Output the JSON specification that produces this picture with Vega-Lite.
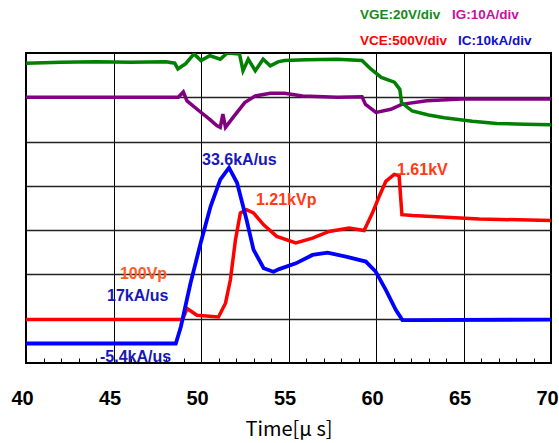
{
  "$schema": "https://vega.github.io/schema/vega-lite/v6.json",
  "width": 525,
  "height": 310,
  "autosize": {"type": "none"},
  "padding": {"left": 26, "top": 53, "right": 8, "bottom": 80},
  "background": "white",
  "config": {"view": {"stroke": "black", "strokeWidth": 2}},
  "datasets": {
    "traces": [
      {"s": "VGE", "t": 40, "v": 6.77}, {"s": "VGE", "t": 42, "v": 6.79}, {"s": "VGE", "t": 44, "v": 6.8}, {"s": "VGE", "t": 46, "v": 6.79}, {"s": "VGE", "t": 48, "v": 6.8}, {"s": "VGE", "t": 48.5, "v": 6.77}, {"s": "VGE", "t": 48.68, "v": 6.64}, {"s": "VGE", "t": 48.9, "v": 6.7}, {"s": "VGE", "t": 49.1, "v": 6.75}, {"s": "VGE", "t": 49.6, "v": 6.98}, {"s": "VGE", "t": 50.0, "v": 6.83}, {"s": "VGE", "t": 50.5, "v": 6.94}, {"s": "VGE", "t": 51.1, "v": 6.86}, {"s": "VGE", "t": 51.5, "v": 7.0}, {"s": "VGE", "t": 52.2, "v": 6.98}, {"s": "VGE", "t": 52.4, "v": 6.6}, {"s": "VGE", "t": 52.7, "v": 6.86}, {"s": "VGE", "t": 53.1, "v": 6.6}, {"s": "VGE", "t": 53.55, "v": 6.86}, {"s": "VGE", "t": 53.96, "v": 6.71}, {"s": "VGE", "t": 54.4, "v": 6.8}, {"s": "VGE", "t": 54.77, "v": 6.83}, {"s": "VGE", "t": 56, "v": 6.85}, {"s": "VGE", "t": 57.8, "v": 6.86}, {"s": "VGE", "t": 59.2, "v": 6.83}, {"s": "VGE", "t": 59.7, "v": 6.64}, {"s": "VGE", "t": 60.3, "v": 6.45}, {"s": "VGE", "t": 61.05, "v": 6.34}, {"s": "VGE", "t": 61.36, "v": 6.18}, {"s": "VGE", "t": 61.46, "v": 5.88}, {"s": "VGE", "t": 62.07, "v": 5.69}, {"s": "VGE", "t": 63.0, "v": 5.6}, {"s": "VGE", "t": 63.9, "v": 5.54}, {"s": "VGE", "t": 65.5, "v": 5.46}, {"s": "VGE", "t": 66.9, "v": 5.41}, {"s": "VGE", "t": 68.5, "v": 5.39}, {"s": "VGE", "t": 70, "v": 5.38},
      {"s": "IG", "t": 40, "v": 6.0}, {"s": "IG", "t": 48.7, "v": 6.0}, {"s": "IG", "t": 48.99, "v": 6.12}, {"s": "IG", "t": 49.2, "v": 5.92}, {"s": "IG", "t": 49.9, "v": 5.69}, {"s": "IG", "t": 50.5, "v": 5.5}, {"s": "IG", "t": 50.9, "v": 5.36}, {"s": "IG", "t": 51.1, "v": 5.32}, {"s": "IG", "t": 51.25, "v": 5.62}, {"s": "IG", "t": 51.4, "v": 5.32}, {"s": "IG", "t": 51.9, "v": 5.58}, {"s": "IG", "t": 52.5, "v": 5.88}, {"s": "IG", "t": 53.1, "v": 6.03}, {"s": "IG", "t": 53.96, "v": 6.09}, {"s": "IG", "t": 54.77, "v": 6.09}, {"s": "IG", "t": 55.8, "v": 6.03}, {"s": "IG", "t": 57.8, "v": 6.0}, {"s": "IG", "t": 59.2, "v": 6.01}, {"s": "IG", "t": 59.4, "v": 5.84}, {"s": "IG", "t": 60.0, "v": 5.66}, {"s": "IG", "t": 60.85, "v": 5.73}, {"s": "IG", "t": 61.46, "v": 5.84}, {"s": "IG", "t": 62.9, "v": 5.92}, {"s": "IG", "t": 64.9, "v": 5.96}, {"s": "IG", "t": 70, "v": 5.96},
      {"s": "VCE", "t": 40, "v": 0.98}, {"s": "VCE", "t": 48.95, "v": 0.98}, {"s": "VCE", "t": 49.2, "v": 1.23}, {"s": "VCE", "t": 49.77, "v": 1.08}, {"s": "VCE", "t": 51.0, "v": 1.04}, {"s": "VCE", "t": 51.4, "v": 1.35}, {"s": "VCE", "t": 51.68, "v": 1.88}, {"s": "VCE", "t": 51.97, "v": 2.78}, {"s": "VCE", "t": 52.25, "v": 3.39}, {"s": "VCE", "t": 52.6, "v": 3.46}, {"s": "VCE", "t": 53.0, "v": 3.39}, {"s": "VCE", "t": 53.58, "v": 3.12}, {"s": "VCE", "t": 54.33, "v": 2.86}, {"s": "VCE", "t": 55.42, "v": 2.71}, {"s": "VCE", "t": 56.37, "v": 2.82}, {"s": "VCE", "t": 57.32, "v": 2.97}, {"s": "VCE", "t": 58.47, "v": 3.05}, {"s": "VCE", "t": 59.32, "v": 2.99}, {"s": "VCE", "t": 59.8, "v": 3.39}, {"s": "VCE", "t": 60.18, "v": 3.76}, {"s": "VCE", "t": 60.56, "v": 4.1}, {"s": "VCE", "t": 61.04, "v": 4.26}, {"s": "VCE", "t": 61.32, "v": 4.23}, {"s": "VCE", "t": 61.48, "v": 3.35}, {"s": "VCE", "t": 62.09, "v": 3.33}, {"s": "VCE", "t": 65.9, "v": 3.25}, {"s": "VCE", "t": 70, "v": 3.22},
      {"s": "IC", "t": 40, "v": 0.44}, {"s": "IC", "t": 48.56, "v": 0.44}, {"s": "IC", "t": 48.85, "v": 0.82}, {"s": "IC", "t": 49.4, "v": 1.8}, {"s": "IC", "t": 49.98, "v": 2.71}, {"s": "IC", "t": 50.55, "v": 3.54}, {"s": "IC", "t": 51.1, "v": 4.14}, {"s": "IC", "t": 51.6, "v": 4.41}, {"s": "IC", "t": 52.06, "v": 4.07}, {"s": "IC", "t": 52.6, "v": 3.24}, {"s": "IC", "t": 53.0, "v": 2.56}, {"s": "IC", "t": 53.58, "v": 2.14}, {"s": "IC", "t": 54.14, "v": 2.06}, {"s": "IC", "t": 54.47, "v": 2.12}, {"s": "IC", "t": 55.42, "v": 2.25}, {"s": "IC", "t": 56.37, "v": 2.44}, {"s": "IC", "t": 57.23, "v": 2.49}, {"s": "IC", "t": 58.28, "v": 2.4}, {"s": "IC", "t": 59.42, "v": 2.29}, {"s": "IC", "t": 59.99, "v": 2.06}, {"s": "IC", "t": 60.56, "v": 1.65}, {"s": "IC", "t": 61.13, "v": 1.2}, {"s": "IC", "t": 61.51, "v": 0.97}, {"s": "IC", "t": 62.09, "v": 0.97}, {"s": "IC", "t": 70, "v": 0.98}
    ],
    "heads": [
      {"g": "vge", "t": 59.09, "v": 7.86, "label": "VGE:20V/div"},
      {"g": "ig", "t": 64.34, "v": 7.86, "label": "IG:10A/div"},
      {"g": "vce", "t": 59.09, "v": 7.27, "label": "VCE:500V/div"},
      {"g": "ic", "t": 64.69, "v": 7.27, "label": "IC:10kA/div"}
    ],
    "notes": [
      {"g": "curr", "t": 50.06, "v": 4.58, "label": "33.6kA/us"},
      {"g": "volt", "t": 53.14, "v": 3.68, "label": "1.21kVp"},
      {"g": "volt", "t": 61.2, "v": 4.36, "label": "1.61kV"},
      {"g": "volt2", "t": 45.37, "v": 2.0, "label": "100Vp"},
      {"g": "curr", "t": 44.63, "v": 1.51, "label": "17kA/us"},
      {"g": "curr", "t": 44.23, "v": 0.14, "label": "-5.4kA/us"}
    ]
  },
  "encoding": {
    "x": {
      "field": "t", "type": "quantitative",
      "scale": {"domain": [40, 70], "nice": false, "zero": false},
      "axis": {
        "values": [40,41,42,43,44,45,46,47,48,49,50,51,52,53,54,55,56,57,58,59,60,61,62,63,64,65,66,67,68,69,70],
        "labelExpr": "datum.value % 5 === 0 ? datum.label : ''",
        "labelOverlap": false, "labelFlush": false,
        "domain": false,
        "ticks": true, "tickSize": -5, "tickColor": "black", "tickWidth": 1,
        "grid": true, "gridColor": "black", "gridWidth": 1,
        "gridOpacity": {"condition": {"test": "datum.value % 5 === 0", "value": 1}, "value": 0},
        "labelFont": "Liberation Sans", "labelFontSize": 20, "labelFontWeight": "bold", "labelColor": "black",
        "labelPadding": 30, "labelOffset": -4,
        "title": "Time[μ s]", "titleFont": "Noto Sans CJK JP", "titleFontSize": 20, "titleFontWeight": "normal", "titleColor": "black",
        "titlePadding": 11
      }
    },
    "y": {
      "field": "v", "type": "quantitative",
      "scale": {"domain": [0, 7], "nice": false, "zero": false},
      "axis": {
        "values": [1, 2, 3, 4, 5, 6],
        "labels": false, "ticks": false, "domain": false, "title": null,
        "grid": true, "gridColor": "#222222", "gridWidth": 1.6
      }
    }
  },
  "layer": [
    {"data": {"name": "traces"}, "transform": [{"filter": "datum.s === 'IG'"}], "mark": {"type": "line", "color": "#800080", "strokeWidth": 3.5, "clip": true}},
    {"data": {"name": "traces"}, "transform": [{"filter": "datum.s === 'VGE'"}], "mark": {"type": "line", "color": "#008000", "strokeWidth": 3.5, "clip": true}},
    {"data": {"name": "traces"}, "transform": [{"filter": "datum.s === 'VCE'"}], "mark": {"type": "line", "color": "#FF0000", "strokeWidth": 3.5, "clip": true}},
    {"data": {"name": "traces"}, "transform": [{"filter": "datum.s === 'IC'"}], "mark": {"type": "line", "color": "#0000FF", "strokeWidth": 3.8, "clip": true}},
    {
      "data": {"name": "heads"},
      "mark": {"type": "text", "align": "left", "baseline": "middle", "font": "Liberation Sans", "fontWeight": "bold", "fontSize": 13.5},
      "encoding": {
        "text": {"field": "label"},
        "color": {"field": "g", "type": "nominal", "legend": null,
          "scale": {"domain": ["vge", "ig", "vce", "ic", "curr", "volt", "volt2"], "range": ["#178A17", "#C810A0", "#FF0000", "#1010C8", "#1818B8", "#FF3A14", "#FF5A28"]}}
      }
    },
    {
      "data": {"name": "notes"},
      "mark": {"type": "text", "align": "left", "baseline": "middle", "font": "Liberation Sans", "fontWeight": "bold", "fontSize": 16},
      "encoding": {
        "text": {"field": "label"},
        "color": {"field": "g", "type": "nominal", "legend": null}
      }
    }
  ]
}
